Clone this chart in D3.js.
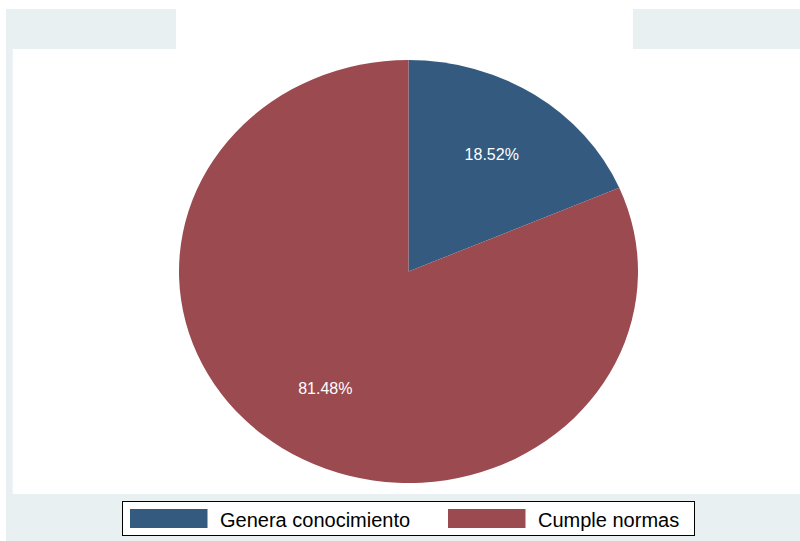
<!DOCTYPE html>
<html>
<head>
<meta charset="utf-8">
<script src="https://cdn.jsdelivr.net/npm/d3@7"></script>
<style>
  html, body { margin: 0; padding: 0; background: #ffffff; }
  svg { display: block; }
</style>
</head>
<body>
<svg id="chart" width="800" height="541"></svg>
<script>
// Categories and their shares (percent)
const categories = ["Genera conocimiento", "Cumple normas"];
const shares = [18.52, 81.48];
const sliceLabels = ["18.52%", "81.48%"];
const colors = ["#345B7F", "#9B4A50"];

const svg = d3.select("#chart");
const W = 800, H = 541;

// Outer graph region and inner plot region
svg.append("rect").attr("x", 6).attr("y", 9).attr("width", W - 6).attr("height", H - 9).attr("fill", "#E8F0F2");
svg.append("rect").attr("x", 176).attr("y", 9).attr("width", 633 - 176).attr("height", 40).attr("fill", "#ffffff");
svg.append("rect").attr("x", 12.7).attr("y", 49).attr("width", W - 12.7).attr("height", 494 - 49).attr("fill", "#ffffff");

// Elliptical pie: unit arcs scaled separately in x and y
const cx = 408.5, cy = 271.5, rx = 229.5, ry = 211.5;
const data = categories.map((c, i) => ({ name: c, value: shares[i], label: sliceLabels[i], color: colors[i] }));
const pie = d3.pie().value(d => d.value).sort(null).startAngle(0).endAngle(2 * Math.PI);
const arcs = pie(data);
const arc = d3.arc().innerRadius(0).outerRadius(rx);

const g = svg.append("g").attr("transform", `translate(${cx},${cy})`);
g.append("g").attr("transform", `scale(1,${ry / rx})`)
  .selectAll("path").data(arcs).join("path")
  .attr("d", arc)
  .attr("fill", d => d.data.color);

const labelArc = d3.arc().innerRadius(0.66 * rx).outerRadius(0.66 * rx);
g.selectAll("text.slice").data(arcs).join("text")
  .attr("class", "slice")
  .attr("x", d => labelArc.centroid(d)[0])
  .attr("y", d => labelArc.centroid(d)[1] * ry / rx)
  .attr("dy", "0.35em")
  .attr("text-anchor", "middle")
  .attr("font-family", "Liberation Sans, Arial, sans-serif")
  .attr("font-size", 16)
  .attr("fill", "#ffffff")
  .text(d => d.data.label);

// Legend
const legend = svg.append("g");
legend.append("rect").attr("x", 122.5).attr("y", 501.5).attr("width", 572).attr("height", 34)
  .attr("fill", "#ffffff").attr("stroke", "#000000").attr("stroke-width", 1);
const legendX = [130, 448];
const items = legend.selectAll("g.item").data(data).join("g").attr("class", "item")
  .attr("transform", (d, i) => `translate(${legendX[i]},0)`);
items.append("rect").attr("x", 0).attr("y", 509).attr("width", 77.5).attr("height", 19).attr("fill", d => d.color);
items.append("text").attr("x", 90).attr("y", 526.5)
  .attr("font-family", "Liberation Sans, Arial, sans-serif")
  .attr("font-size", 20)
  .attr("fill", "#000000")
  .text(d => d.name);
</script>
</body>
</html>
